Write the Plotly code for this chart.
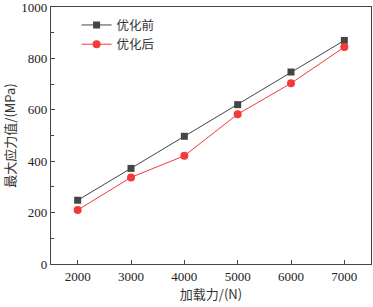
import plotly.graph_objects as go

loads = [2000, 3000, 4000, 5000, 6000, 7000]
before = [248, 372, 497, 620, 747, 870]
after = [210, 337, 421, 583, 703, 844]
names = ["优化前", "优化后"]

fig = go.Figure()
fig.add_trace(go.Scatter(x=loads, y=before, name=names[0], mode="lines+markers",
                         line=dict(color="#454545", width=1),
                         marker=dict(symbol="square", size=7, color="#454545")))
fig.add_trace(go.Scatter(x=loads, y=after, name=names[1], mode="lines+markers",
                         line=dict(color="#f23a3a", width=1),
                         marker=dict(symbol="circle", size=8, color="#f23a3a")))

tickfont = dict(family="Liberation Serif, Times New Roman, serif", size=13, color="#222")
axis_common = dict(showline=True, linecolor="#444", linewidth=1.3, mirror=True,
                   ticks="inside", ticklen=4, tickcolor="#444", showgrid=False,
                   zeroline=False, tickfont=tickfont, automargin=False,
                   ticklabeloverflow="allow")

fig.update_layout(
    width=373, height=307,
    margin=dict(l=51, r=2, t=7, b=43),
    paper_bgcolor="white", plot_bgcolor="white",
    showlegend=True,
    legend=dict(x=0.08, y=0.987, xanchor="left", yanchor="top",
                bgcolor="rgba(0,0,0,0)", tracegroupgap=0, itemwidth=30,
                font=dict(family="Noto Sans CJK SC", size=12.5, color="#333")),
    xaxis=dict(range=[1500, 7500], tickvals=loads, **axis_common,
               title=dict(text="加载力/(N)", standoff=4,
                          font=dict(family="Noto Sans CJK SC, Liberation Serif", size=13, color="#333"))),
    yaxis=dict(range=[0, 1000], dtick=200, minor=dict(dtick=100, ticks="inside", ticklen=3, tickcolor="#444"),
               **axis_common,
               title=dict(text="最大应力值/(MPa)", standoff=4,
                          font=dict(family="Noto Sans CJK SC, Liberation Serif", size=13, color="#333"))),
)
fig.write_html("out.html", config={"displayModeBar": False},
               post_script="document.body.style.margin='0';")
